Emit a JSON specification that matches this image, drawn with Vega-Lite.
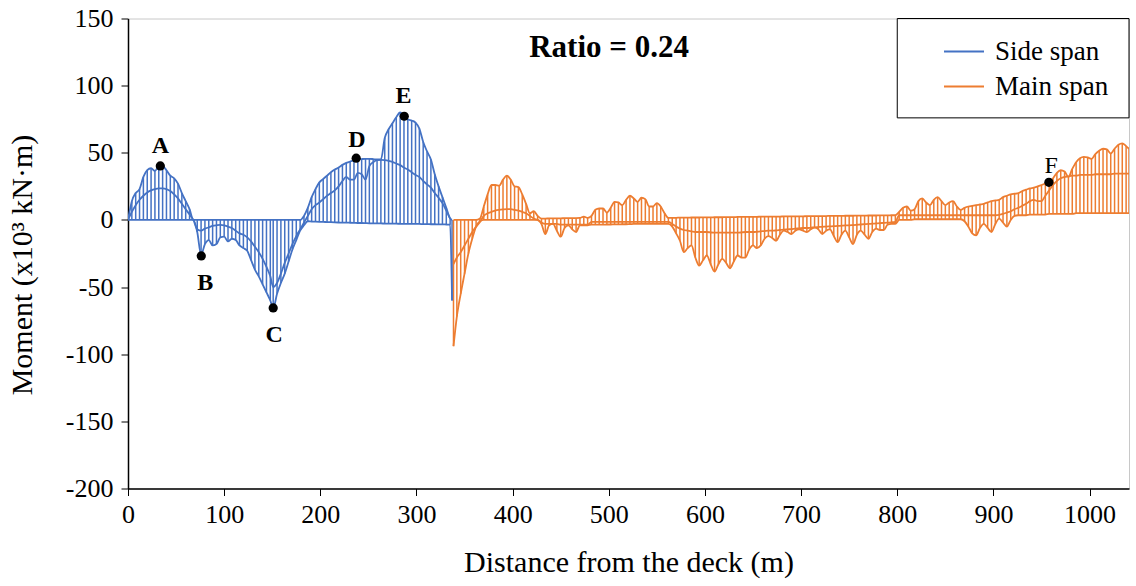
{
 "$schema": "https://vega.github.io/schema/vega-lite/v6.json",
 "width": 1001, "height": 470,
 "autosize": {"type": "none"},
 "padding": {"left": 128, "top": 18.5, "right": 7, "bottom": 97.5},
 "background": "white",
 "config": {"view": {"stroke": "#c8c8c8", "strokeWidth": 1}, "font": "Liberation Serif",
   "axis": {"grid": false, "tickColor": "black", "tickSize": 7, "tickWidth": 1, "domainColor": "black", "domainWidth": 1.5, "labelColor": "black", "labelFont": "Liberation Serif", "labelFontSize": 26, "titleFont": "Liberation Serif", "titleFontSize": 30, "titleFontWeight": "normal", "titleColor": "black", "labelFlush": false},
   "legend": {"labelFont": "Liberation Serif", "labelFontSize": 27, "labelColor": "black"}},
 "datasets": {
  "m": [
   {"s":"Side span","x":0,"hi":0,"lo":0,"mid":0},
   {"s":"Side span","x":4,"hi":14,"lo":0,"mid":6},
   {"s":"Side span","x":8,"hi":20,"lo":0,"mid":11},
   {"s":"Side span","x":12,"hi":23,"lo":0,"mid":15},
   {"s":"Side span","x":16,"hi":32,"lo":0,"mid":18},
   {"s":"Side span","x":20,"hi":37,"lo":0,"mid":20.5},
   {"s":"Side span","x":24,"hi":38.5,"lo":0,"mid":22},
   {"s":"Side span","x":28,"hi":36.5,"lo":0,"mid":23},
   {"s":"Side span","x":32,"hi":40,"lo":0,"mid":23.5},
   {"s":"Side span","x":36,"hi":40,"lo":0,"mid":23.5},
   {"s":"Side span","x":40,"hi":37,"lo":0,"mid":23},
   {"s":"Side span","x":44,"hi":33,"lo":0,"mid":21.5},
   {"s":"Side span","x":48,"hi":31,"lo":0,"mid":19},
   {"s":"Side span","x":52,"hi":27,"lo":0,"mid":16},
   {"s":"Side span","x":56,"hi":20,"lo":0,"mid":12},
   {"s":"Side span","x":60,"hi":14,"lo":0,"mid":8},
   {"s":"Side span","x":64,"hi":8,"lo":0,"mid":4},
   {"s":"Side span","x":68,"hi":0,"lo":0,"mid":0},
   {"s":"Side span","x":72,"hi":0,"lo":-9,"mid":-7},
   {"s":"Side span","x":76,"hi":0,"lo":-26,"mid":-8},
   {"s":"Side span","x":80,"hi":0,"lo":-18,"mid":-6.5},
   {"s":"Side span","x":84,"hi":0,"lo":-15,"mid":-5.5},
   {"s":"Side span","x":88,"hi":0,"lo":-19,"mid":-4.5},
   {"s":"Side span","x":92,"hi":0,"lo":-18,"mid":-4},
   {"s":"Side span","x":96,"hi":0,"lo":-13,"mid":-3.7},
   {"s":"Side span","x":100,"hi":0,"lo":-12.5,"mid":-4},
   {"s":"Side span","x":104,"hi":0,"lo":-16,"mid":-5},
   {"s":"Side span","x":108,"hi":0,"lo":-14,"mid":-6},
   {"s":"Side span","x":112,"hi":0,"lo":-15,"mid":-8},
   {"s":"Side span","x":116,"hi":0,"lo":-19,"mid":-10},
   {"s":"Side span","x":120,"hi":0,"lo":-21,"mid":-11},
   {"s":"Side span","x":124,"hi":0,"lo":-23,"mid":-13},
   {"s":"Side span","x":128,"hi":0,"lo":-30,"mid":-16},
   {"s":"Side span","x":132,"hi":0,"lo":-37,"mid":-20},
   {"s":"Side span","x":136,"hi":0,"lo":-42,"mid":-24},
   {"s":"Side span","x":140,"hi":0,"lo":-48,"mid":-29},
   {"s":"Side span","x":144,"hi":0,"lo":-54,"mid":-35},
   {"s":"Side span","x":148,"hi":0,"lo":-60,"mid":-42},
   {"s":"Side span","x":151,"hi":0,"lo":-66,"mid":-50},
   {"s":"Side span","x":155,"hi":0,"lo":-55,"mid":-47},
   {"s":"Side span","x":159,"hi":0,"lo":-47,"mid":-40},
   {"s":"Side span","x":163,"hi":0,"lo":-40,"mid":-32},
   {"s":"Side span","x":167,"hi":0,"lo":-31,"mid":-25},
   {"s":"Side span","x":171,"hi":0,"lo":-22,"mid":-18},
   {"s":"Side span","x":175,"hi":0,"lo":-15,"mid":-12},
   {"s":"Side span","x":179,"hi":0,"lo":-8,"mid":-7},
   {"s":"Side span","x":183,"hi":3,"lo":-4,"mid":-2},
   {"s":"Side span","x":187,"hi":9,"lo":-1,"mid":3},
   {"s":"Side span","x":191,"hi":17,"lo":-1.2,"mid":8},
   {"s":"Side span","x":195,"hi":23,"lo":-1.3,"mid":11},
   {"s":"Side span","x":199,"hi":28,"lo":-1.4,"mid":13},
   {"s":"Side span","x":203,"hi":30.5,"lo":-1.5,"mid":15.5},
   {"s":"Side span","x":207,"hi":33,"lo":-1.6,"mid":18},
   {"s":"Side span","x":211,"hi":35.5,"lo":-1.7,"mid":20},
   {"s":"Side span","x":215,"hi":37.5,"lo":-1.8,"mid":22},
   {"s":"Side span","x":219,"hi":39,"lo":-1.9,"mid":25},
   {"s":"Side span","x":223,"hi":41,"lo":-2,"mid":29},
   {"s":"Side span","x":227,"hi":42.5,"lo":-2,"mid":32},
   {"s":"Side span","x":231,"hi":43.5,"lo":-2.1,"mid":30},
   {"s":"Side span","x":235,"hi":44.2,"lo":-2.2,"mid":30},
   {"s":"Side span","x":239,"hi":45,"lo":-2.3,"mid":35},
   {"s":"Side span","x":243,"hi":45.3,"lo":-2.3,"mid":34},
   {"s":"Side span","x":247,"hi":45.5,"lo":-2.4,"mid":30},
   {"s":"Side span","x":251,"hi":45.5,"lo":-2.5,"mid":40},
   {"s":"Side span","x":255,"hi":45.3,"lo":-2.5,"mid":43},
   {"s":"Side span","x":259,"hi":45,"lo":-2.6,"mid":44.5},
   {"s":"Side span","x":263,"hi":45,"lo":-2.6,"mid":44.7},
   {"s":"Side span","x":267,"hi":61,"lo":-2.7,"mid":44.5},
   {"s":"Side span","x":271,"hi":67.5,"lo":-2.7,"mid":44},
   {"s":"Side span","x":275,"hi":72,"lo":-2.8,"mid":43.2},
   {"s":"Side span","x":279,"hi":76.5,"lo":-2.8,"mid":42},
   {"s":"Side span","x":283,"hi":80,"lo":-2.9,"mid":40.8},
   {"s":"Side span","x":287,"hi":77.5,"lo":-2.9,"mid":39},
   {"s":"Side span","x":291,"hi":75,"lo":-3,"mid":37.5},
   {"s":"Side span","x":295,"hi":74,"lo":-3,"mid":35.5},
   {"s":"Side span","x":299,"hi":72.5,"lo":-3,"mid":33.5},
   {"s":"Side span","x":303,"hi":68,"lo":-3,"mid":32},
   {"s":"Side span","x":307,"hi":58,"lo":-3.1,"mid":29},
   {"s":"Side span","x":311,"hi":51,"lo":-3.1,"mid":26.5},
   {"s":"Side span","x":315,"hi":45,"lo":-3.2,"mid":24},
   {"s":"Side span","x":319,"hi":34,"lo":-3.2,"mid":20},
   {"s":"Side span","x":323,"hi":25,"lo":-3.3,"mid":16.5},
   {"s":"Side span","x":327,"hi":17,"lo":-3.3,"mid":12.5},
   {"s":"Side span","x":331,"hi":9,"lo":-3.4,"mid":7},
   {"s":"Side span","x":335,"hi":1,"lo":-3.5,"mid":1},
   {"s":"Side span","x":337,"hi":0,"lo":-60,"mid":null},
   {"s":"Main span","x":338.5,"hi":0,"lo":-94,"mid":-33},
   {"s":"Main span","x":342,"hi":0,"lo":-72,"mid":-28},
   {"s":"Main span","x":346,"hi":0,"lo":-55,"mid":-24},
   {"s":"Main span","x":350,"hi":0,"lo":-40,"mid":-19},
   {"s":"Main span","x":354,"hi":0,"lo":-25,"mid":-14},
   {"s":"Main span","x":358,"hi":0,"lo":-14,"mid":-9},
   {"s":"Main span","x":362,"hi":0,"lo":-5,"mid":-5},
   {"s":"Main span","x":366,"hi":1,"lo":-1,"mid":-1.5},
   {"s":"Main span","x":370,"hi":10,"lo":0,"mid":3},
   {"s":"Main span","x":374,"hi":19,"lo":0,"mid":5},
   {"s":"Main span","x":378,"hi":26,"lo":0,"mid":6},
   {"s":"Main span","x":382,"hi":26,"lo":0,"mid":7},
   {"s":"Main span","x":386,"hi":25.5,"lo":0,"mid":7.5},
   {"s":"Main span","x":390,"hi":30,"lo":0,"mid":7.8},
   {"s":"Main span","x":394,"hi":33,"lo":0,"mid":8},
   {"s":"Main span","x":398,"hi":30,"lo":0,"mid":8},
   {"s":"Main span","x":402,"hi":25,"lo":0,"mid":7.5},
   {"s":"Main span","x":406,"hi":24.5,"lo":0,"mid":7},
   {"s":"Main span","x":410,"hi":19,"lo":0,"mid":6},
   {"s":"Main span","x":414,"hi":12,"lo":0,"mid":5},
   {"s":"Main span","x":418,"hi":5,"lo":0,"mid":3},
   {"s":"Main span","x":422,"hi":6.5,"lo":0,"mid":1},
   {"s":"Main span","x":426,"hi":3,"lo":0,"mid":0},
   {"s":"Main span","x":430,"hi":1,"lo":-3,"mid":-2},
   {"s":"Main span","x":434,"hi":1,"lo":-10.5,"mid":-3},
   {"s":"Main span","x":438,"hi":1.1,"lo":-4,"mid":-3},
   {"s":"Main span","x":442,"hi":1.1,"lo":-3,"mid":-3},
   {"s":"Main span","x":446,"hi":1.2,"lo":-8,"mid":-3},
   {"s":"Main span","x":450,"hi":1.2,"lo":-12.5,"mid":-3.5},
   {"s":"Main span","x":454,"hi":1.3,"lo":-6,"mid":-3.5},
   {"s":"Main span","x":458,"hi":1.3,"lo":-4,"mid":-3.5},
   {"s":"Main span","x":462,"hi":1.4,"lo":-7,"mid":-3.5},
   {"s":"Main span","x":466,"hi":1.4,"lo":-9,"mid":-3.5},
   {"s":"Main span","x":470,"hi":1.5,"lo":-4,"mid":-3.5},
   {"s":"Main span","x":474,"hi":2.5,"lo":-4,"mid":-3.5},
   {"s":"Main span","x":478,"hi":1.5,"lo":-4,"mid":-3.5},
   {"s":"Main span","x":482,"hi":3,"lo":-3.5,"mid":-1.5},
   {"s":"Main span","x":486,"hi":7.5,"lo":-3.5,"mid":-1.5},
   {"s":"Main span","x":490,"hi":8.5,"lo":-3.5,"mid":-1.5},
   {"s":"Main span","x":494,"hi":8.5,"lo":-3.5,"mid":-1.5},
   {"s":"Main span","x":498,"hi":5.5,"lo":-3.4,"mid":-1.5},
   {"s":"Main span","x":502,"hi":9,"lo":-3.4,"mid":-1.5},
   {"s":"Main span","x":506,"hi":13.5,"lo":-3.3,"mid":-1.5},
   {"s":"Main span","x":510,"hi":13,"lo":-3.3,"mid":-1.5},
   {"s":"Main span","x":514,"hi":11,"lo":-3.2,"mid":-1.5},
   {"s":"Main span","x":518,"hi":15,"lo":-3.2,"mid":-1.5},
   {"s":"Main span","x":522,"hi":18,"lo":-3.1,"mid":-1.5},
   {"s":"Main span","x":526,"hi":16,"lo":-3,"mid":-1.5},
   {"s":"Main span","x":530,"hi":13.5,"lo":-3,"mid":-1.5},
   {"s":"Main span","x":534,"hi":16.5,"lo":-3,"mid":-1.5},
   {"s":"Main span","x":538,"hi":15.5,"lo":-3,"mid":-1.5},
   {"s":"Main span","x":542,"hi":10,"lo":-3,"mid":-1.5},
   {"s":"Main span","x":546,"hi":10,"lo":-3,"mid":-1.5},
   {"s":"Main span","x":550,"hi":12.5,"lo":-3,"mid":-1.5},
   {"s":"Main span","x":554,"hi":10,"lo":-3,"mid":-1.5},
   {"s":"Main span","x":558,"hi":5,"lo":-3,"mid":-1.5},
   {"s":"Main span","x":562,"hi":1.5,"lo":-3,"mid":-1.5},
   {"s":"Main span","x":566,"hi":1.6,"lo":-5,"mid":-3},
   {"s":"Main span","x":570,"hi":1.6,"lo":-10,"mid":-5},
   {"s":"Main span","x":574,"hi":1.7,"lo":-15.5,"mid":-6.5},
   {"s":"Main span","x":578,"hi":1.7,"lo":-24,"mid":-7.5},
   {"s":"Main span","x":582,"hi":1.7,"lo":-21,"mid":-8},
   {"s":"Main span","x":586,"hi":1.8,"lo":-19,"mid":-8.5},
   {"s":"Main span","x":590,"hi":1.8,"lo":-28,"mid":-9},
   {"s":"Main span","x":594,"hi":1.8,"lo":-34,"mid":-9},
   {"s":"Main span","x":598,"hi":1.9,"lo":-30,"mid":-9},
   {"s":"Main span","x":602,"hi":1.9,"lo":-26.5,"mid":-9},
   {"s":"Main span","x":606,"hi":1.9,"lo":-33,"mid":-9.3},
   {"s":"Main span","x":610,"hi":2,"lo":-38.5,"mid":-9.5},
   {"s":"Main span","x":614,"hi":2,"lo":-33,"mid":-9.5},
   {"s":"Main span","x":618,"hi":2,"lo":-29,"mid":-9.5},
   {"s":"Main span","x":622,"hi":2.1,"lo":-32,"mid":-9.5},
   {"s":"Main span","x":626,"hi":2.1,"lo":-36,"mid":-9.5},
   {"s":"Main span","x":630,"hi":2.1,"lo":-31,"mid":-9.5},
   {"s":"Main span","x":634,"hi":2.2,"lo":-26.5,"mid":-9.5},
   {"s":"Main span","x":638,"hi":2.2,"lo":-28,"mid":-9.3},
   {"s":"Main span","x":642,"hi":2.2,"lo":-28,"mid":-9},
   {"s":"Main span","x":646,"hi":2.3,"lo":-22,"mid":-9},
   {"s":"Main span","x":650,"hi":2.3,"lo":-19,"mid":-9},
   {"s":"Main span","x":654,"hi":2.3,"lo":-21,"mid":-8.8},
   {"s":"Main span","x":658,"hi":2.4,"lo":-19,"mid":-8.5},
   {"s":"Main span","x":662,"hi":2.4,"lo":-14,"mid":-8.3},
   {"s":"Main span","x":666,"hi":2.4,"lo":-12,"mid":-8},
   {"s":"Main span","x":670,"hi":2.5,"lo":-13.5,"mid":-8},
   {"s":"Main span","x":674,"hi":2.5,"lo":-15.5,"mid":-7.8},
   {"s":"Main span","x":678,"hi":2.5,"lo":-11,"mid":-7.5},
   {"s":"Main span","x":682,"hi":2.6,"lo":-8,"mid":-7.2},
   {"s":"Main span","x":686,"hi":2.6,"lo":-9,"mid":-7},
   {"s":"Main span","x":690,"hi":2.6,"lo":-10.5,"mid":-6.8},
   {"s":"Main span","x":694,"hi":2.7,"lo":-8,"mid":-6.5},
   {"s":"Main span","x":698,"hi":2.7,"lo":-7,"mid":-6.3},
   {"s":"Main span","x":702,"hi":2.7,"lo":-8,"mid":-6},
   {"s":"Main span","x":706,"hi":2.8,"lo":-9,"mid":-6},
   {"s":"Main span","x":710,"hi":2.8,"lo":-7,"mid":-5.8},
   {"s":"Main span","x":714,"hi":2.8,"lo":-5.8,"mid":-5.5},
   {"s":"Main span","x":718,"hi":2.9,"lo":-7,"mid":-5.3},
   {"s":"Main span","x":722,"hi":2.9,"lo":-10.5,"mid":-5.1},
   {"s":"Main span","x":726,"hi":2.9,"lo":-8,"mid":-5},
   {"s":"Main span","x":730,"hi":3,"lo":-7,"mid":-4.8},
   {"s":"Main span","x":734,"hi":3,"lo":-12,"mid":-4.6},
   {"s":"Main span","x":738,"hi":3,"lo":-16.5,"mid":-4.5},
   {"s":"Main span","x":742,"hi":3,"lo":-11,"mid":-4.3},
   {"s":"Main span","x":746,"hi":3.1,"lo":-8,"mid":-4.1},
   {"s":"Main span","x":750,"hi":3.1,"lo":-13,"mid":-4},
   {"s":"Main span","x":754,"hi":3.1,"lo":-18,"mid":-3.8},
   {"s":"Main span","x":758,"hi":3.2,"lo":-11,"mid":-3.6},
   {"s":"Main span","x":762,"hi":3.2,"lo":-8,"mid":-3.4},
   {"s":"Main span","x":766,"hi":3.2,"lo":-11,"mid":-3.2},
   {"s":"Main span","x":770,"hi":3.3,"lo":-14,"mid":-3},
   {"s":"Main span","x":774,"hi":3.3,"lo":-9,"mid":-2.8},
   {"s":"Main span","x":778,"hi":3.3,"lo":-6.5,"mid":-2.6},
   {"s":"Main span","x":782,"hi":3.4,"lo":-7.5,"mid":-2.4},
   {"s":"Main span","x":786,"hi":3.4,"lo":-7.5,"mid":-2.2},
   {"s":"Main span","x":790,"hi":3.4,"lo":-3.5,"mid":-2},
   {"s":"Main span","x":794,"hi":3.5,"lo":-3,"mid":-1.8},
   {"s":"Main span","x":798,"hi":3.5,"lo":-3,"mid":-1.5},
   {"s":"Main span","x":802,"hi":6,"lo":0,"mid":3.5},
   {"s":"Main span","x":806,"hi":9,"lo":0,"mid":3.5},
   {"s":"Main span","x":810,"hi":10,"lo":0,"mid":3.5},
   {"s":"Main span","x":814,"hi":7,"lo":0,"mid":3.5},
   {"s":"Main span","x":818,"hi":8,"lo":0.5,"mid":3.5},
   {"s":"Main span","x":822,"hi":14,"lo":0.5,"mid":3.5},
   {"s":"Main span","x":826,"hi":16,"lo":0.5,"mid":3.5},
   {"s":"Main span","x":830,"hi":13,"lo":0.5,"mid":3.5},
   {"s":"Main span","x":834,"hi":11,"lo":0.5,"mid":3.5},
   {"s":"Main span","x":838,"hi":15,"lo":0.5,"mid":3.5},
   {"s":"Main span","x":842,"hi":17,"lo":0.5,"mid":3.5},
   {"s":"Main span","x":846,"hi":14,"lo":0.5,"mid":3.5},
   {"s":"Main span","x":850,"hi":11,"lo":0.5,"mid":3.5},
   {"s":"Main span","x":854,"hi":13,"lo":0.5,"mid":3.5},
   {"s":"Main span","x":858,"hi":14,"lo":0.5,"mid":3.5},
   {"s":"Main span","x":862,"hi":10,"lo":0.5,"mid":3.5},
   {"s":"Main span","x":866,"hi":7.5,"lo":0.5,"mid":3.5},
   {"s":"Main span","x":870,"hi":9,"lo":-1,"mid":3.5},
   {"s":"Main span","x":874,"hi":10,"lo":-5,"mid":3.5},
   {"s":"Main span","x":878,"hi":10.5,"lo":-10,"mid":3.5},
   {"s":"Main span","x":882,"hi":11,"lo":-11.5,"mid":3.5},
   {"s":"Main span","x":886,"hi":11.5,"lo":-6,"mid":3.5},
   {"s":"Main span","x":890,"hi":12,"lo":-3,"mid":3.5},
   {"s":"Main span","x":894,"hi":13,"lo":-6,"mid":3.5},
   {"s":"Main span","x":898,"hi":14,"lo":-9,"mid":3.5},
   {"s":"Main span","x":902,"hi":14.5,"lo":-3,"mid":3.5},
   {"s":"Main span","x":906,"hi":15,"lo":1,"mid":3.8},
   {"s":"Main span","x":910,"hi":17,"lo":-2,"mid":4.5},
   {"s":"Main span","x":914,"hi":18,"lo":-5,"mid":5.5},
   {"s":"Main span","x":918,"hi":19,"lo":0,"mid":6.5},
   {"s":"Main span","x":922,"hi":19.5,"lo":3,"mid":8},
   {"s":"Main span","x":926,"hi":20,"lo":3.5,"mid":9},
   {"s":"Main span","x":930,"hi":21.5,"lo":3.5,"mid":10.5},
   {"s":"Main span","x":934,"hi":22.5,"lo":3.5,"mid":12},
   {"s":"Main span","x":938,"hi":23.5,"lo":4,"mid":14},
   {"s":"Main span","x":942,"hi":24,"lo":4,"mid":15},
   {"s":"Main span","x":946,"hi":25,"lo":4,"mid":14},
   {"s":"Main span","x":950,"hi":26,"lo":4,"mid":14},
   {"s":"Main span","x":954,"hi":27,"lo":4,"mid":18},
   {"s":"Main span","x":958,"hi":28,"lo":4.5,"mid":22},
   {"s":"Main span","x":962,"hi":31,"lo":4.5,"mid":26},
   {"s":"Main span","x":966,"hi":35,"lo":4.5,"mid":29},
   {"s":"Main span","x":970,"hi":37,"lo":4.5,"mid":31},
   {"s":"Main span","x":974,"hi":36,"lo":4.5,"mid":32},
   {"s":"Main span","x":978,"hi":32,"lo":4.5,"mid":32.5},
   {"s":"Main span","x":982,"hi":38,"lo":4.5,"mid":33},
   {"s":"Main span","x":986,"hi":43,"lo":5,"mid":33},
   {"s":"Main span","x":990,"hi":46,"lo":5,"mid":33.5},
   {"s":"Main span","x":994,"hi":47,"lo":5,"mid":33.5},
   {"s":"Main span","x":998,"hi":46.5,"lo":5,"mid":33.5},
   {"s":"Main span","x":1002,"hi":45.5,"lo":5,"mid":33.5},
   {"s":"Main span","x":1006,"hi":49,"lo":5,"mid":34},
   {"s":"Main span","x":1010,"hi":51.5,"lo":5,"mid":34},
   {"s":"Main span","x":1014,"hi":53,"lo":5,"mid":34},
   {"s":"Main span","x":1018,"hi":52.5,"lo":5,"mid":34},
   {"s":"Main span","x":1022,"hi":49.5,"lo":5,"mid":34},
   {"s":"Main span","x":1026,"hi":53,"lo":5,"mid":34.5},
   {"s":"Main span","x":1030,"hi":56,"lo":5,"mid":34.5},
   {"s":"Main span","x":1034,"hi":57,"lo":5,"mid":34.5},
   {"s":"Main span","x":1038,"hi":55,"lo":5,"mid":34.5},
   {"s":"Main span","x":1041,"hi":53,"lo":5,"mid":34.5}
  ],
  "pts": [
   {"lab":"A","x":33.6,"y":40.2,"ly":50.1,"lx":33.6},
   {"lab":"B","x":76.2,"y":-26.8,"ly":-52.1,"lx":80.4},
   {"lab":"C","x":151,"y":-65.5,"ly":-90.8,"lx":152},
   {"lab":"D","x":237.3,"y":46,"ly":54.6,"lx":238},
   {"lab":"E","x":287.3,"y":77.2,"ly":86.9,"lx":286.5},
   {"lab":"F","x":957.7,"y":28,"ly":35.2,"lx":960}
  ],
  "ttl": [{"t":"Ratio = 0.24","x":500.3,"y":121}],
  "box": [{"x1":800,"x2":1041,"y1":150,"y2":76}]
 },
 "layer": [
  {
   "data": {"name": "m"},
   "mark": {"type": "rule", "strokeWidth": 1.5, "clip": true},
   "encoding": {
    "x": {"field": "x", "type": "quantitative", "scale": {"domain": [0, 1041], "nice": false, "zero": false},
      "axis": {"values": [0,100,200,300,400,500,600,700,800,900,1000], "labelExpr": "'' + datum.value", "title": "Distance from the deck (m)", "labelPadding": 6, "titlePadding": 20}},
    "y": {"field": "lo", "type": "quantitative", "scale": {"domain": [-200, 150], "nice": false, "zero": false},
      "axis": {"values": [-200,-150,-100,-50,0,50,100,150], "labelExpr": "'' + datum.value", "title": "Moment (x10³ kN·m)", "labelPadding": 8, "titleX": -106, "titleY": 246, "titleAngle": -90, "titleAlign": "center", "titleBaseline": "middle"}},
    "y2": {"field": "hi"},
    "color": {"field": "s", "type": "nominal", "scale": {"domain": ["Side span", "Main span"], "range": ["#4472C4", "#ED7D31"]},
      "legend": {"title": null, "orient": "none", "legendX": 815, "legendY": 12, "symbolType": "stroke", "symbolSize": 1600, "symbolStrokeWidth": 2, "labelOffset": 10, "rowPadding": 1, "padding": 0, "labelLimit": 300}}
   }
  },
  {
   "data": {"name": "m"},
   "transform": [{"fold": ["hi", "lo", "mid"], "as": ["k", "v"]}],
   "mark": {"type": "line", "strokeWidth": 1.8, "clip": true, "interpolate": "monotone"},
   "encoding": {
    "x": {"field": "x", "type": "quantitative"},
    "y": {"field": "v", "type": "quantitative"},
    "detail": {"field": "k"},
    "color": {"field": "s", "type": "nominal",
      "legend": {"title": null, "orient": "none", "legendX": 815, "legendY": 12, "symbolType": "stroke", "symbolSize": 1600, "symbolStrokeWidth": 2, "labelOffset": 10, "rowPadding": 1, "padding": 0, "labelLimit": 300}}
   }
  },
  {
   "data": {"name": "box"},
   "mark": {"type": "rect", "fill": null, "stroke": "black", "strokeWidth": 1},
   "encoding": {"x": {"field": "x1", "type": "quantitative"}, "x2": {"field": "x2"}, "y": {"field": "y1", "type": "quantitative"}, "y2": {"field": "y2"}}
  },
  {
   "mark": {"type": "rule", "color": "black", "strokeWidth": 2.5},
   "encoding": {"y": {"datum": 0}}
  },
  {
   "mark": {"type": "rule", "color": "black", "strokeWidth": 1.5},
   "encoding": {"x": {"datum": 1041}}
  },
  {
   "data": {"name": "pts"},
   "mark": {"type": "circle", "size": 85, "color": "black", "opacity": 1},
   "encoding": {"x": {"field": "x", "type": "quantitative"}, "y": {"field": "y", "type": "quantitative"}}
  },
  {
   "data": {"name": "pts"},
   "transform": [{"filter": "datum.lab != 'F'"}],
   "mark": {"type": "text", "font": "Liberation Serif", "fontSize": 24, "fontWeight": "bold", "color": "black", "baseline": "alphabetic", "align": "center"},
   "encoding": {"x": {"field": "lx", "type": "quantitative"}, "y": {"field": "ly", "type": "quantitative"}, "text": {"field": "lab"}}
  },
  {
   "data": {"name": "pts"},
   "transform": [{"filter": "datum.lab == 'F'"}],
   "mark": {"type": "text", "font": "Liberation Serif", "fontSize": 24, "fontWeight": "normal", "color": "black", "baseline": "alphabetic", "align": "center"},
   "encoding": {"x": {"field": "lx", "type": "quantitative"}, "y": {"field": "ly", "type": "quantitative"}, "text": {"field": "lab"}}
  },
  {
   "data": {"name": "ttl"},
   "mark": {"type": "text", "font": "Liberation Serif", "fontSize": 31, "fontWeight": "bold", "color": "black", "baseline": "alphabetic", "align": "center"},
   "encoding": {"x": {"field": "x", "type": "quantitative"}, "y": {"field": "y", "type": "quantitative"}, "text": {"field": "t"}}
  }
 ]
}
